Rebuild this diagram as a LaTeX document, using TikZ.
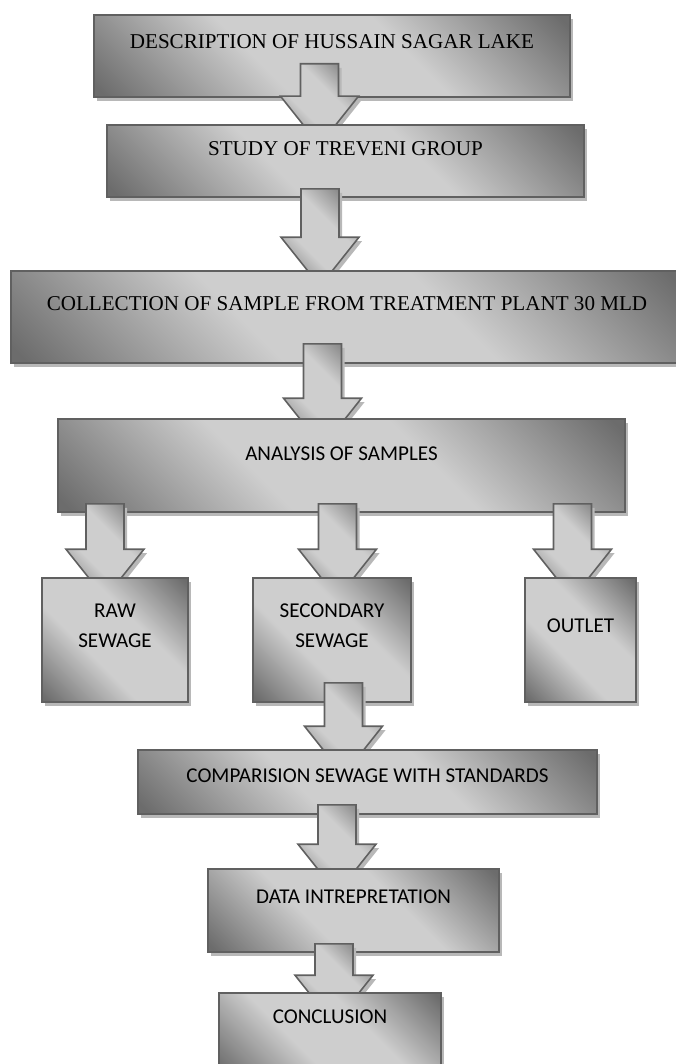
\documentclass[tikz,border=0pt]{standalone}
\usepackage{fontspec}
\setmainfont{Liberation Serif}
\newfontfamily\calibri{Carlito}
\usetikzlibrary{positioning,shadows,calc}

\definecolor{boxdark}{RGB}{108,108,108}
\definecolor{boxlight}{RGB}{206,206,206}
\definecolor{boxline}{RGB}{96,96,96}
\definecolor{boxshadow}{RGB}{184,184,184}
\pgfdeclarehorizontalshading{boxshade}{100bp}{color(0bp)=(boxdark); color(16bp)=(boxdark); color(40bp)=(boxlight); color(60bp)=(boxlight); color(84bp)=(boxdark); color(100bp)=(boxdark)}

% block arrow: x, upper node, lower node, shaft overlap, head gap
\newcommand{\flowarrow}[5]{%
	\begin{scope}
		\clip let \p2=(#3.north) in (0cm,\y2+0.45pt) rectangle (13.5cm,0cm);
		\draw[arrowbox] let \p1=(#2.south), \p2=(#3.north) in
			(#1-0.38cm,\y1+#4) -- (#1+0.38cm,\y1+#4) -- (#1+0.38cm,\y2+#5)
			-- (#1+0.78cm,\y2+#5) -- (#1,\y2+#5-0.98cm) -- (#1-0.78cm,\y2+#5)
			-- (#1-0.38cm,\y2+#5) -- cycle;
	\end{scope}}

\begin{document}
\begin{tikzpicture}[node distance=2cm, on grid,
	box/.style={draw=boxline, line width=0.9pt, shading=boxshade, shading angle=45,
		drop shadow={shadow xshift=0.06cm, shadow yshift=-0.08cm, fill=boxshadow, opacity=1},
		inner sep=0pt, align=center, font=\fontsize{12}{17}\selectfont},
	sansbox/.style={box, font=\calibri\fontsize{12}{17}\selectfont},
	arrowbox/.style={draw=boxline, line width=0.9pt, shading=boxshade, shading angle=45,
		drop shadow={shadow xshift=0.06cm, shadow yshift=-0.08cm, fill=boxshadow, opacity=1}}]
	\useasboundingbox (0,0) rectangle (13.5,-21.28);

	\node [box, minimum width=9.52cm, text height=0.68cm, text depth=0.96cm] (desc) at (6.64,-1.12) {DESCRIPTION OF HUSSAIN SAGAR LAKE};
	\node [box, minimum width=9.54cm, text height=0.62cm, text depth=0.82cm, xshift=0.27cm] (study) [below=2.1cm of desc] {STUDY OF TREVENI GROUP};
	\node [box, minimum width=13.44cm, text height=0.78cm, text depth=1.06cm, xshift=0.03cm] (collect) [below=3.12cm of study] {COLLECTION OF SAMPLE FROM TREATMENT PLANT 30 MLD};
	\node [sansbox, minimum width=11.34cm, text height=0.82cm, text depth=1.04cm, xshift=-0.11cm] (analysis) [below=2.97cm of collect] {ANALYSIS OF SAMPLES};
	\node [sansbox, minimum width=3.16cm, text height=1.38cm, text depth=1.1cm, xshift=-0.19cm] (secondary) [below=3.49cm of analysis] {SECONDARY\\SEWAGE};
	\node [sansbox, minimum width=2.92cm, text height=1.38cm, text depth=1.1cm] (raw) [left=4.34cm of secondary] {RAW\\SEWAGE};
	\node [sansbox, minimum width=2.22cm, text height=1.08cm, text depth=1.4cm] (outlet) [right=4.97cm of secondary] {OUTLET};
	\node [sansbox, minimum width=9.18cm, text height=0.64cm, text depth=0.64cm, xshift=0.71cm] (compare) [below=2.84cm of secondary] {COMPARISION SEWAGE WITH STANDARDS};
	\node [sansbox, minimum width=5.82cm, text height=0.68cm, text depth=0.98cm, xshift=-0.28cm] (data) [below=2.57cm of compare] {DATA INTREPRETATION};
	\node [sansbox, minimum width=4.44cm, text height=0.6cm, text depth=1.04cm, xshift=-0.47cm] (concl) [below=2.47cm of data] {CONCLUSION};

	\flowarrow{6.39cm}{desc}{study}{0.68cm}{0.56cm}
	\flowarrow{6.40cm}{study}{collect}{0.18cm}{0.66cm}
	\flowarrow{6.45cm}{collect}{analysis}{0.40cm}{0.40cm}
	\flowarrow{2.10cm}{analysis}{raw}{0.18cm}{0.56cm}
	\flowarrow{6.75cm}{analysis}{secondary}{0.18cm}{0.56cm}
	\flowarrow{11.45cm}{analysis}{outlet}{0.18cm}{0.56cm}
	\flowarrow{6.87cm}{secondary}{compare}{0.40cm}{0.46cm}
	\flowarrow{6.74cm}{compare}{data}{0.20cm}{0.48cm}
	\flowarrow{6.68cm}{data}{concl}{0.18cm}{0.34cm}

\end{tikzpicture}
\end{document}
